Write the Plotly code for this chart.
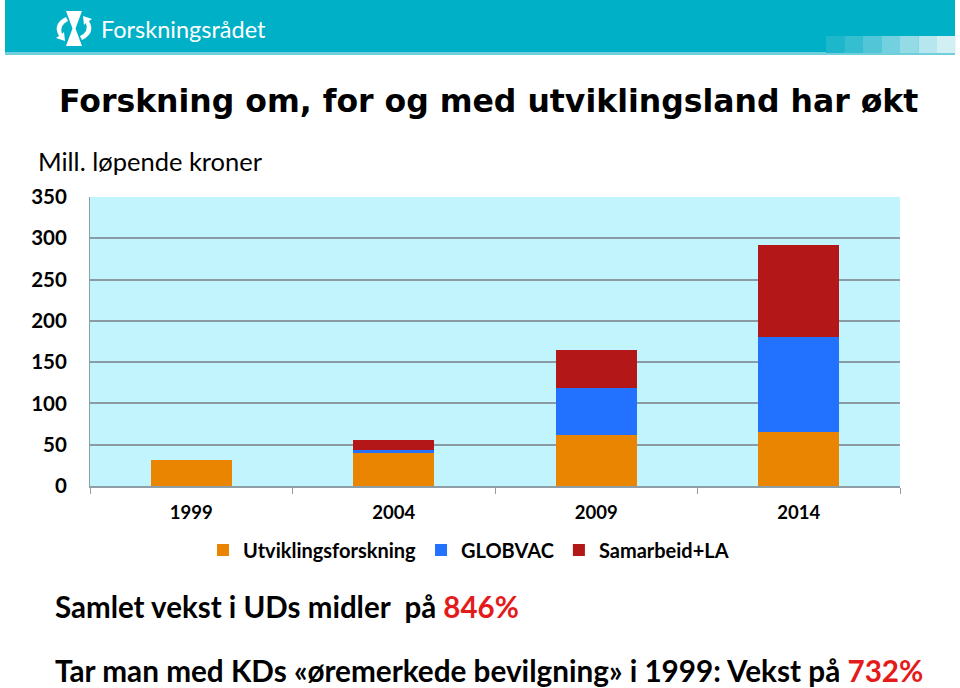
import plotly.graph_objects as go

years = ["1999", "2004", "2009", "2014"]
utviklingsforskning = [31, 40.5, 62, 66]
globvac = [0, 3, 57, 115]
samarbeid_la = [0, 12, 46, 111]
series_names = ["Utviklingsforskning", "GLOBVAC", "Samarbeid+LA"]
colors = ["#E98500", "#2271FF", "#B31717"]
y_ticks = [0, 50, 100, 150, 200, 250, 300, 350]

W, H = 960, 688
L, R, T, B = 90, 900, 197, 486


def px(x):
    return (x - L) / (R - L)


def py(y):
    return (B - y) / (B - T)


fig = go.Figure()
for name, vals, col in zip(series_names, [utviklingsforskning, globvac, samarbeid_la], colors):
    fig.add_trace(go.Bar(x=years, y=vals, name=f"<b>{name}</b>", marker=dict(color=col, line=dict(width=0))))

shapes = []
# header band
shapes.append(dict(type="rect", xref="paper", yref="paper", x0=px(5), x1=px(955), y0=py(0), y1=py(53),
                   fillcolor="#00B0C7", line=dict(width=0), layer="below"))
shapes.append(dict(type="rect", xref="paper", yref="paper", x0=px(5), x1=px(955), y0=py(52), y1=py(55),
                   fillcolor="#6FCFDD", line=dict(width=0), layer="below"))
# gradient squares at right
sq_cols = ["#1DB6CB", "#35BDD0", "#52C6D6", "#73D0DE", "#95DBE6", "#B6E6EE", "#D2EFF4"]
for i, c in enumerate(sq_cols):
    x0 = 826 + i * 18.5
    shapes.append(dict(type="rect", xref="paper", yref="paper", x0=px(x0), x1=px(x0 + 18.5),
                       y0=py(36), y1=py(53), fillcolor=c, line=dict(width=0), layer="below"))


def P(x, y):
    return f"{px(x):.5f},{py(y):.5f}"


# logo icon (hourglass + curved arrows)
hour = f"M {P(66,11)} L {P(82,11)} L {P(75.5,28.5)} L {P(82,46)} L {P(66,46)} L {P(72.5,28.5)} Z"
shapes.append(dict(type="path", xref="paper", yref="paper", path=hour, fillcolor="white", line=dict(width=0)))
arcL = f"M {P(66,17)} Q {P(52,24)} {P(59,36)} L {P(56,38)} L {P(65,41)} L {P(64,32)} L {P(62,34)} Q {P(59,25)} {P(68,21)} Z"
arcR = f"M {P(82,40)} Q {P(96,33)} {P(89,21)} L {P(92,19)} L {P(83,16)} L {P(84,25)} L {P(86,23)} Q {P(89,32)} {P(80,36)} Z"
for a in (arcL, arcR):
    shapes.append(dict(type="path", xref="paper", yref="paper", path=a, fillcolor="white", line=dict(width=0)))

ann = []
ann.append(dict(text="Forskningsrådet", x=px(99), y=py(29), xref="paper", yref="paper", xanchor="left",
                yanchor="middle", showarrow=False, font=dict(family="Lato", size=23.5, color="white")))
ann.append(dict(text="<b>Forskning om, for og med utviklingsland har økt</b>", x=px(57), y=py(101),
                xref="paper", yref="paper", xanchor="left", yanchor="middle", showarrow=False,
                font=dict(family="DejaVu Sans", size=31.5, color="black")))
ann.append(dict(text="Mill. løpende kroner", x=px(36), y=py(161), xref="paper", yref="paper",
                xanchor="left", yanchor="middle", showarrow=False,
                font=dict(family="Lato", size=25.5, color="black")))
ann.append(dict(text="<b>Samlet vekst i UDs midler  på <span style='color:#E41B1B'>846%</span></b>",
                x=px(53), y=py(606), xref="paper", yref="paper", xanchor="left", yanchor="middle",
                showarrow=False, font=dict(family="Lato", size=29.5, color="black")))
ann.append(dict(text="<b>Tar man med KDs «øremerkede bevilgning» i 1999: Vekst på <span style='color:#E41B1B'>732%</span></b>",
                x=px(53), y=py(670), xref="paper", yref="paper", xanchor="left", yanchor="middle",
                showarrow=False, font=dict(family="Lato", size=29.7, color="black")))

fig.update_layout(
    width=W, height=H,
    margin=dict(l=L, r=W - R, t=T, b=H - B, pad=0),
    barmode="stack", bargap=0.6,
    plot_bgcolor="#C1F4FD", paper_bgcolor="white",
    shapes=shapes, annotations=ann,
    showlegend=True,
    legend=dict(orientation="h", x=px(203), y=py(550), xanchor="left", yanchor="middle",
                font=dict(family="Lato", size=20, color="black"), itemwidth=30,
                traceorder="normal", bgcolor="rgba(0,0,0,0)"),
    xaxis=dict(type="category", showgrid=False, showline=True, linecolor="#8E9EA6", linewidth=1.5,
               ticks="outside", tickson="boundaries", ticklen=6, tickcolor="#8E9EA6",
               ticklabelstandoff=9,
               tickfont=dict(family="Lato", size=18.5, color="black"),
               tickvals=years, ticktext=[f"<b>{y}</b>" for y in years], fixedrange=True),
    yaxis=dict(range=[0, 350], tickvals=y_ticks, ticktext=[f"<b>{v}</b>" for v in y_ticks],
               showgrid=True, gridcolor="#8A9BA4", gridwidth=1.8, showline=True, linecolor="#8E9EA6",
               linewidth=1, zeroline=False, ticks="", ticklabelstandoff=18,
               tickfont=dict(family="Lato", size=20.5, color="black"), fixedrange=True),
)

fig.write_html("out.html", config={"displayModeBar": False},
               post_script="document.body.style.margin='0';")
